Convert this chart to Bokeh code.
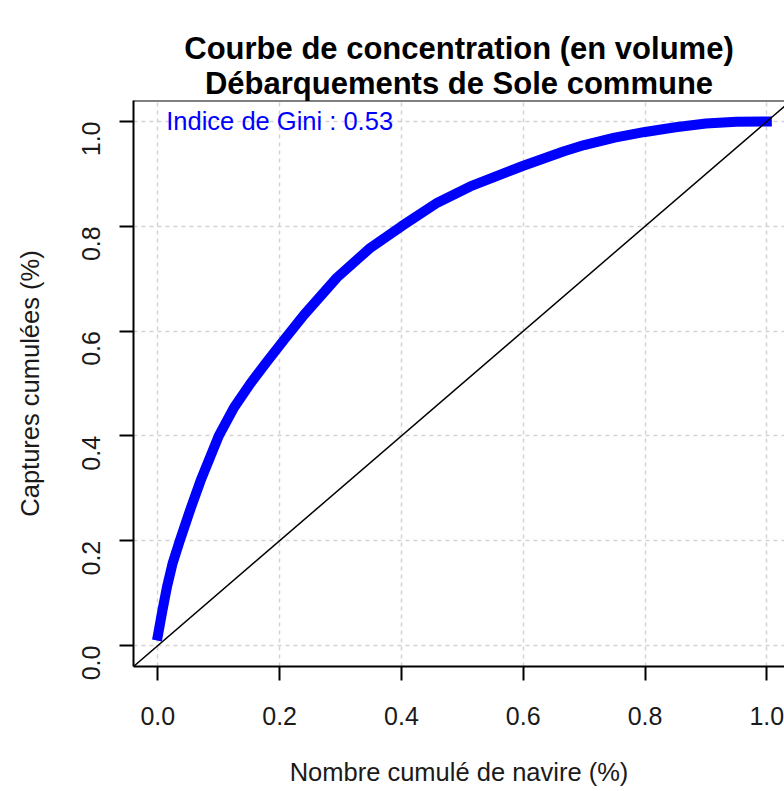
import math
from bokeh.plotting import figure
from bokeh.models import Range1d, FixedTicker, NumeralTickFormatter, Span, Slope, Label, Title
from bokeh.embed import file_html
from bokeh.resources import INLINE

# Cumulative share of vessels (x) and cumulative share of landings (y)
navires_cum = [0.0, 0.007, 0.015, 0.024, 0.036, 0.054, 0.070, 0.100, 0.125, 0.152,
               0.180, 0.207, 0.240, 0.294, 0.349, 0.400, 0.459, 0.513, 0.599, 0.667,
               0.700, 0.750, 0.800, 0.850, 0.900, 0.950, 1.000]
captures_cum = [0.019, 0.064, 0.112, 0.156, 0.200, 0.262, 0.314, 0.400, 0.454, 0.500,
                0.543, 0.583, 0.631, 0.702, 0.759, 0.800, 0.845, 0.876, 0.915, 0.943,
                0.955, 0.969, 0.980, 0.989, 0.996, 0.9995, 1.000]
ticks = [0.0, 0.2, 0.4, 0.6, 0.8, 1.0]
gini = 0.53

title_line1 = "Courbe de concentration (en volume)"
title_line2 = "Débarquements de Sole commune"
xlabel = "Nombre cumulé de navire (%)"
ylabel = "Captures cumulées (%)"

FONT = "Liberation Sans"

p = figure(width=784, height=791, output_backend="svg", toolbar_location=None,
           x_range=Range1d(-0.04, 1.029), y_range=Range1d(-0.04, 1.04),
           min_border_left=133, min_border_right=0, min_border_top=100, min_border_bottom=125)
p.title = None

# invisible spacer between the plotting box and the two-line title
p.add_layout(Title(text="\u00a0", text_font_size="2px", text_alpha=0, standoff=20), "above")
p.add_layout(Title(text=title_line1 + "\n" + title_line2, align="center", text_align="center",
                   text_font=FONT, text_font_size="31px", text_font_style="bold",
                   text_color="black", standoff=0), "above")

p.outline_line_color = None
p.background_fill_color = "white"
p.border_fill_color = "white"

for ax, lab in ((p.xaxis[0], xlabel), (p.yaxis[0], ylabel)):
    ax.ticker = FixedTicker(ticks=ticks)
    ax.formatter = NumeralTickFormatter(format="0.0")
    ax.axis_label = lab
    ax.axis_label_text_font = FONT
    ax.axis_label_text_font_size = "25.5px"
    ax.axis_label_text_font_style = "normal"
    ax.axis_label_text_color = "#1a1a1a"
    ax.major_label_text_font = FONT
    ax.major_label_text_font_size = "25px"
    ax.major_label_text_color = "#1a1a1a"
    ax.axis_line_color = "black"
    ax.axis_line_width = 2
    ax.major_tick_line_color = "black"
    ax.major_tick_line_width = 2
    ax.major_tick_out = 14
    ax.major_tick_in = 0
    ax.minor_tick_line_color = None

p.xaxis.major_label_standoff = 26
p.xaxis.axis_label_standoff = 30
p.yaxis.major_label_orientation = math.pi / 2
p.yaxis.major_label_standoff = 28
p.yaxis.axis_label_standoff = 27

for g in (p.xgrid[0], p.ygrid[0]):
    g.ticker = FixedTicker(ticks=ticks)
    g.grid_line_color = "#d3d3d3"
    g.grid_line_dash = "4 4"
    g.grid_line_width = 1.5

# top border of the box
p.add_layout(Span(location=1.04, dimension="width", line_color="black", line_width=2))

# diagonal of equality
p.add_layout(Slope(gradient=1, y_intercept=0, line_color="black", line_width=1.5))

# concentration curve
p.line(navires_cum, captures_cum, line_color="blue", line_width=10, line_cap="square", line_join="round")

p.add_layout(Label(x=0.2, y=1.0, text="Indice de Gini : %.2f" % gini, text_color="blue",
                   text_font=FONT, text_font_size="25.5px", text_align="center",
                   text_baseline="middle"))

open("out.html", "w").write(file_html(p, INLINE))
